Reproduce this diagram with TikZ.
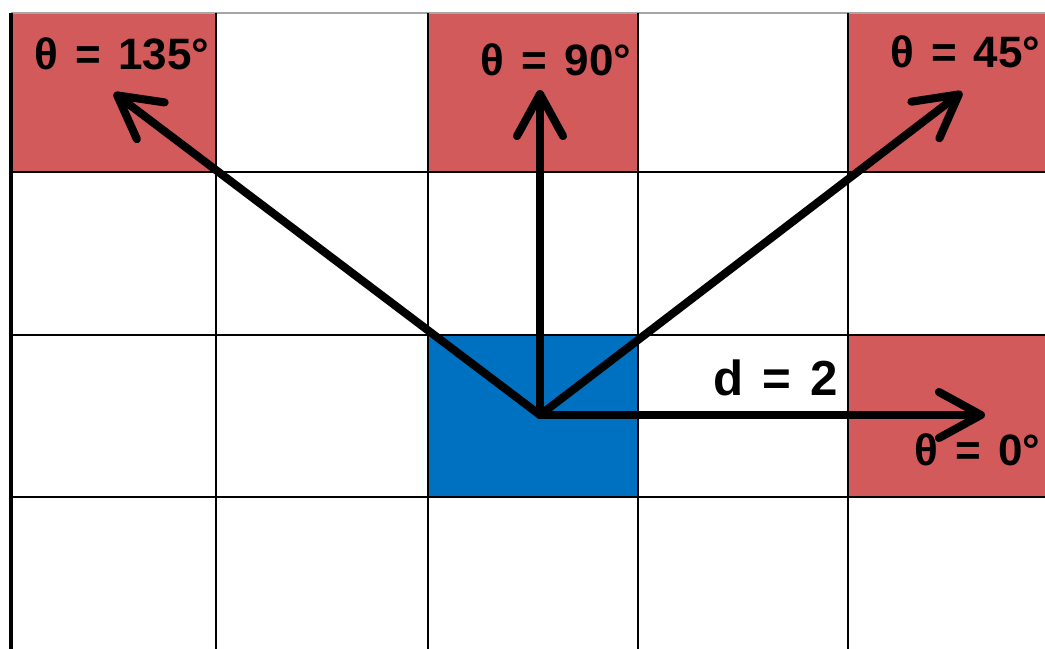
\documentclass[tikz,border=0pt]{standalone}
\usepackage{fontspec}
\setmainfont{Liberation Sans}
\newfontfamily\lblfont[WordSpace=1.4]{Liberation Sans}
\usetikzlibrary{arrows.meta,positioning}
\definecolor{cellRed}{HTML}{D35A5A}
\definecolor{cellBlue}{HTML}{0070C0}
\tikzset{
    % cell fills and grid
    redcell/.style={fill=cellRed},
    bluecell/.style={fill=cellBlue},
    gridline/.style={line width=0.8pt,black},
    % direction arrows
    dirarrow/.style={-{Straight Barb[round,length=4.2mm,width=4.6mm]},line width=2.3pt,line cap=round,black},
    anglabel/.style={font=\lblfont\fontsize{12.5}{14}\selectfont\bfseries,inner sep=0pt}
}

\begin{document}
\begin{tikzpicture}[x=0.01cm,y=-0.01cm]
\useasboundingbox (0,0) rectangle (1045,649);
\fill[white] (0,0) rectangle (1045,649);

% Coloured cells
\fill[redcell] (11,13) rectangle (216,172);
\fill[redcell] (428,13) rectangle (638,172);
\fill[redcell] (848,13) rectangle (1045,172);
\fill[redcell] (848,335) rectangle (1045,497);
\fill[bluecell] (428,335) rectangle (638,497);

% Grid
\draw[black!35,line width=0.5pt] (11,13) -- (1045,13);
\draw[black,line width=1.2pt] (11,13) -- (11,649);
\foreach \gx in {216,428,638,848}
    \draw[gridline] (\gx,13) -- (\gx,649);
\foreach \gy in {172,335,497}
    \draw[gridline] (11,\gy) -- (1045,\gy);

% Origin and arrow tips
\coordinate (origin) at (540,415);
\coordinate (tip135) at (114,93);
\coordinate (tip90) at (540,90);
\coordinate (tip45) at (962,92);
\coordinate (tip0) at (985,415);

\draw[dirarrow] (origin) -- (tip135);
\draw[dirarrow] (origin) -- (tip90);
\draw[dirarrow] (origin) -- (tip45);
\draw[dirarrow] (origin) -- (tip0);

% Labels
\node[anglabel] (lab135) at (122,54) {θ = 135°};
\node[anglabel] (lab90) at (556,60) {θ = 90°};
\node[anglabel,anchor=east] (lab45) at (1041,52) {θ = 45°};
\node[anglabel,anchor=east] (lab0) at (1041,450) {θ = 0°};
\node[anglabel,font=\lblfont\fontsize{14}{16}\selectfont\bfseries] (dist) at (776,378) {d = 2};

\end{tikzpicture}
\end{document}
